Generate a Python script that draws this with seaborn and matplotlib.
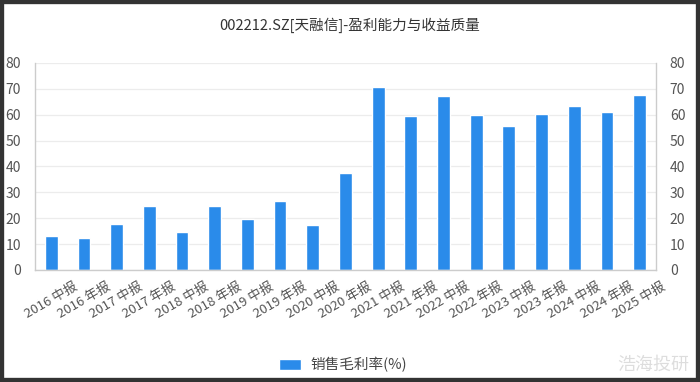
import matplotlib
matplotlib.use("Agg")
import matplotlib.pyplot as plt
import seaborn as sns
import pandas as pd
from matplotlib.patches import Rectangle

categories = ["2016 中报", "2016 年报", "2017 中报", "2017 年报", "2018 中报", "2018 年报",
              "2019 中报", "2019 年报", "2020 中报", "2020 年报", "2021 中报", "2021 年报",
              "2022 中报", "2022 年报", "2023 中报", "2023 年报", "2024 中报", "2024 年报",
              "2025 中报"]
gross_margin = [13.2, 12.4, 17.8, 24.7, 14.8, 24.7, 19.8, 26.6, 17.5, 37.3,
                70.9, 59.6, 67.4, 59.8, 55.6, 60.4, 63.4, 61.1, 67.6]
y_ticks = [0, 10, 20, 30, 40, 50, 60, 70, 80]
series_name = "销售毛利率(%)"
title = "002212.SZ[天融信]-盈利能力与收益质量"

sns.set_theme(style="white")
plt.rcParams['font.family'] = ['Noto Sans CJK SC', 'DejaVu Sans']

df = pd.DataFrame({"cat": categories, "val": gross_margin})

fig = plt.figure(figsize=(7.0, 3.82), dpi=100)
ax = fig.add_axes([0.05, 0.2932, 0.887, 0.542])
bar_color = "#2A8BEA"
sns.barplot(data=df, x="cat", y="val", color=bar_color, width=0.39, ax=ax,
            saturation=1, label=series_name)
ax.set_xlim(-0.5, len(categories) - 0.5)
ax.set_ylim(0, 80)
ax.set_yticks(y_ticks)
ax.set_xlabel("")
ax.set_ylabel("")
ax.yaxis.grid(True, color="#ECECEC", linewidth=0.9)
ax.set_axisbelow(True)
for s in ["left", "bottom", "right"]:
    ax.spines[s].set_color("#CCCCCC")
    ax.spines[s].set_linewidth(1.0)
ax.spines["top"].set_visible(False)
ax.tick_params(axis="y", length=0, labelsize=10, colors="#555555", pad=10)
ax.tick_params(axis="x", length=0, labelsize=9.5, colors="#555555", pad=7)
plt.setp(ax.get_xticklabels(), rotation=30, ha="center")

ax2 = ax.twinx()
ax2.set_ylim(0, 80)
ax2.set_yticks(y_ticks)
ax2.tick_params(axis="y", length=0, labelsize=10, colors="#555555", pad=10)
for s in ax2.spines.values():
    s.set_visible(False)
ax2.grid(False)

fig.text(0.5, 0.935, title, ha="center", va="center", fontsize=10.5, color="#333333")

handles, labels = ax.get_legend_handles_labels()
if ax.get_legend() is not None:
    ax.get_legend().remove()
fig.legend(handles, labels, loc="center", bbox_to_anchor=(0.49, 0.045), frameon=False,
           fontsize=10.5, handlelength=1.5, handleheight=0.8, handletextpad=0.6,
           labelcolor="#444444")

fig.text(0.985, 0.045, "浩海投研", ha="right", va="center", fontsize=13, color="#DDDDDD")

fig.patches.append(Rectangle((0, 0), 1, 1, transform=fig.transFigure, fill=False,
                             edgecolor="#333333", linewidth=6, zorder=10))

fig.savefig("out.png", dpi=100, facecolor="white")
